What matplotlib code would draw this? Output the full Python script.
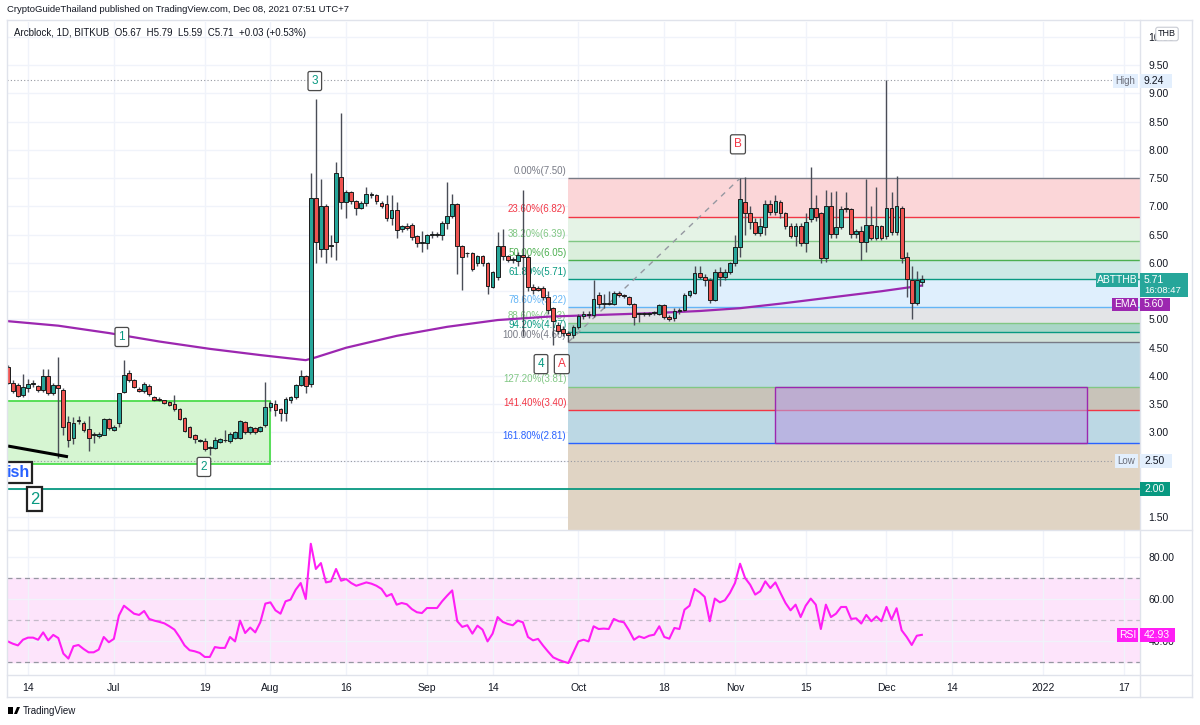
import numpy as np
import pandas as pd
import matplotlib
matplotlib.use('Agg')
import matplotlib.pyplot as plt
import matplotlib.dates as mdates
from matplotlib.patches import Rectangle, Polygon
from matplotlib.lines import Line2D
from matplotlib.ticker import FixedFormatter

plt.rcParams['font.family'] = ['Liberation Sans', 'DejaVu Sans']

# ---- data (ABT/THB daily, 2021-06-10 .. 2021-12-08) ----
START = '2021-06-10'
OPEN = [4.16, 3.88, 3.84, 3.66, 3.78, 3.86, 3.82, 3.76, 4.00, 3.70,
        3.84, 3.75, 3.18, 2.90, 3.20, 3.17, 3.06, 2.95, 2.93, 2.96,
        3.24, 3.05, 3.17, 3.72, 4.05, 3.92, 3.77, 3.74, 3.83, 3.62,
        3.60, 3.57, 3.54, 3.50, 3.42, 3.26, 3.10, 2.95, 2.85, 2.85,
        2.73, 2.73, 2.84, 2.86, 2.85, 2.90, 2.90, 3.18, 3.00, 3.08,
        3.02, 3.13, 3.45, 3.50, 3.42, 3.35, 3.58, 3.62, 3.84, 4.00,
        3.85, 7.15, 6.25, 7.00, 6.30, 6.37, 7.53, 7.08, 7.26, 7.10,
        6.98, 7.07, 7.20, 7.20, 7.07, 7.04, 6.80, 6.93, 6.60, 6.66,
        6.68, 6.48, 6.35, 6.35, 6.50, 6.50, 6.50, 6.70, 6.84, 7.04,
        6.30, 6.17, 6.17, 6.00, 6.12, 6.00, 5.58, 5.75, 6.30, 6.12,
        6.06, 6.03, 6.15, 6.10, 5.58, 5.55, 5.55, 5.40, 5.20, 4.90,
        4.83, 4.76, 4.73, 4.86, 5.07, 5.08, 5.08, 5.43, 5.28, 5.28,
        5.28, 5.47, 5.43, 5.40, 5.28, 5.10, 5.10, 5.10, 5.12, 5.10,
        5.25, 5.05, 5.03, 5.15, 5.17, 5.44, 5.47, 5.82, 5.76, 5.70,
        5.34, 5.84, 5.76, 5.84, 6.00, 6.28, 7.08, 6.88, 6.73, 6.53,
        6.63, 7.04, 6.90, 7.08, 6.88, 6.65, 6.48, 6.66, 6.35, 6.78,
        6.97, 6.88, 6.08, 7.00, 6.52, 6.64, 6.97, 6.95, 6.52, 6.57,
        6.37, 6.67, 6.44, 6.65, 6.47, 6.97, 6.55, 6.97, 6.10, 5.70,
        5.30, 5.67]
HIGH = [4.20, 3.93, 3.88, 4.04, 3.95, 3.92, 3.84, 4.12, 4.12, 3.88,
        4.34, 3.78, 3.30, 3.27, 3.30, 3.20, 3.30, 3.00, 3.00, 3.26,
        3.26, 3.13, 3.30, 4.28, 4.10, 3.95, 3.80, 3.90, 3.86, 3.65,
        3.62, 3.58, 3.56, 3.66, 3.44, 3.28, 3.12, 2.97, 2.88, 2.90,
        2.76, 2.92, 2.90, 3.05, 3.00, 3.02, 3.22, 3.20, 3.12, 3.10,
        3.12, 3.90, 3.55, 3.58, 3.44, 3.62, 3.64, 3.86, 4.10, 4.02,
        7.60, 8.90, 7.49, 7.05, 6.50, 7.79, 8.65, 7.30, 7.28, 7.12,
        7.10, 7.35, 7.25, 7.22, 7.10, 7.20, 7.20, 7.08, 6.68, 6.70,
        6.70, 6.50, 6.56, 6.52, 6.56, 6.54, 6.75, 7.43, 7.22, 7.06,
        6.32, 6.20, 6.20, 6.15, 6.15, 6.02, 5.85, 6.55, 6.60, 6.14,
        6.10, 6.20, 7.30, 6.15, 5.62, 5.60, 5.60, 5.50, 5.22, 4.95,
        4.88, 4.80, 4.90, 5.10, 5.15, 5.15, 5.70, 5.48, 5.45, 5.50,
        5.50, 5.50, 5.45, 5.42, 5.30, 5.12, 5.14, 5.14, 5.15, 5.28,
        5.27, 5.08, 5.20, 5.20, 5.46, 5.52, 5.94, 5.95, 5.80, 5.74,
        5.90, 5.92, 5.90, 6.02, 6.50, 7.50, 7.52, 7.00, 6.80, 6.80,
        7.12, 7.12, 7.20, 7.12, 6.90, 6.70, 6.70, 6.70, 6.88, 7.70,
        7.20, 6.90, 7.30, 7.25, 7.27, 7.00, 7.25, 6.98, 6.60, 6.65,
        7.49, 7.00, 7.35, 6.68, 9.24, 7.25, 7.54, 7.00, 6.20, 5.95,
        5.85, 5.79]
LOW = [3.85, 3.70, 3.62, 3.62, 3.72, 3.80, 3.72, 3.72, 3.66, 3.66,
       2.55, 2.95, 2.75, 2.80, 3.15, 3.00, 2.68, 2.82, 2.90, 2.95,
       3.05, 3.03, 3.10, 3.70, 3.90, 3.78, 3.72, 3.70, 3.65, 3.56,
       3.56, 3.50, 3.46, 3.38, 3.22, 3.00, 2.90, 2.82, 2.83, 2.68,
       2.60, 2.70, 2.82, 2.84, 2.82, 2.88, 2.88, 2.98, 2.98, 2.98,
       3.00, 3.10, 3.38, 3.30, 3.20, 3.20, 3.52, 3.60, 3.82, 3.70,
       3.80, 6.00, 6.10, 6.00, 6.10, 6.05, 6.95, 6.80, 7.05, 6.85,
       6.95, 7.00, 7.15, 7.05, 6.98, 6.75, 6.68, 6.45, 6.55, 6.58,
       6.40, 6.28, 6.20, 6.25, 6.45, 6.46, 6.40, 6.60, 6.80, 5.80,
       5.52, 6.10, 5.85, 5.95, 5.95, 5.45, 5.55, 5.70, 6.05, 6.02,
       6.00, 5.95, 4.70, 5.50, 5.45, 5.50, 5.35, 5.10, 4.55, 4.75,
       4.70, 4.60, 4.68, 4.84, 5.00, 5.03, 5.05, 5.20, 5.20, 5.25,
       5.25, 5.40, 5.38, 5.25, 4.90, 4.95, 5.06, 5.06, 5.08, 5.08,
       5.00, 4.98, 4.98, 5.10, 5.15, 5.40, 5.45, 5.72, 5.60, 5.30,
       5.32, 5.60, 5.70, 5.80, 5.95, 6.10, 6.50, 6.60, 6.50, 6.48,
       6.50, 6.85, 6.85, 6.80, 6.60, 6.45, 6.30, 6.30, 6.20, 6.72,
       6.75, 6.00, 6.02, 6.45, 6.45, 6.60, 6.90, 6.45, 6.45, 6.05,
       6.20, 6.40, 6.40, 6.40, 6.42, 6.50, 6.50, 6.00, 5.40, 5.00,
       5.25, 5.59]
CLOSE = [3.88, 3.73, 3.65, 3.81, 3.86, 3.86, 3.75, 4.00, 3.70, 3.84,
         3.78, 3.10, 2.87, 3.17, 3.22, 3.05, 2.90, 2.95, 2.98, 3.24,
         3.08, 3.10, 3.70, 4.02, 3.93, 3.80, 3.74, 3.85, 3.68, 3.58,
         3.58, 3.52, 3.48, 3.42, 3.24, 3.03, 2.92, 2.89, 2.86, 2.70,
         2.73, 2.87, 2.88, 2.86, 2.98, 3.00, 3.20, 3.00, 3.10, 3.00,
         3.10, 3.45, 3.52, 3.40, 3.35, 3.60, 3.62, 3.84, 4.00, 3.83,
         7.15, 6.37, 7.00, 6.25, 6.30, 7.60, 7.08, 7.26, 7.10, 6.97,
         7.07, 7.22, 7.20, 7.10, 7.00, 6.80, 6.93, 6.58, 6.65, 6.62,
         6.46, 6.35, 6.35, 6.50, 6.52, 6.50, 6.70, 6.84, 7.04, 6.30,
         6.10, 6.17, 5.90, 6.12, 6.00, 5.60, 5.84, 6.30, 6.12, 6.06,
         6.06, 6.15, 6.10, 5.58, 5.52, 5.53, 5.40, 5.17, 4.98, 4.80,
         4.76, 4.72, 4.86, 5.07, 5.10, 5.08, 5.36, 5.28, 5.28, 5.29,
         5.47, 5.43, 5.41, 5.28, 5.05, 5.10, 5.10, 5.10, 5.12, 5.25,
         5.05, 5.00, 5.15, 5.17, 5.44, 5.50, 5.82, 5.76, 5.70, 5.34,
         5.84, 5.76, 5.84, 6.00, 6.28, 7.13, 6.88, 6.73, 6.53, 6.66,
         7.04, 6.90, 7.10, 6.88, 6.65, 6.48, 6.66, 6.35, 6.73, 6.97,
         6.82, 6.08, 7.00, 6.52, 6.64, 6.95, 6.96, 6.52, 6.57, 6.37,
         6.67, 6.44, 6.65, 6.44, 6.98, 6.55, 7.00, 6.08, 5.72, 5.30,
         5.70, 5.71]
RSI = [39.8, 38.7, 37.9, 40.6, 41.6, 41.6, 40.6, 44.1, 40.3, 42.9,
       41.4, 34.0, 31.6, 37.5, 38.1, 36.2, 34.6, 34.6, 35.9, 41.9,
       39.4, 41.0, 52.1, 56.8, 54.9, 53.0, 52.4, 54.3, 50.5, 49.7,
       49.1, 48.4, 47.0, 45.4, 41.9, 37.9, 35.6, 35.1, 34.3, 32.4,
       32.4, 37.1, 36.7, 36.7, 41.9, 39.8, 49.7, 43.8, 46.4, 44.1,
       48.9, 57.8, 58.4, 54.6, 53.0, 58.9, 59.7, 64.4, 67.6, 60.0,
       86.3, 74.3, 77.1, 67.9, 68.4, 74.3, 68.7, 69.5, 67.6, 66.3,
       67.1, 67.9, 67.3, 66.3, 64.8, 61.3, 62.4, 57.3, 58.1, 57.5,
       55.2, 53.7, 53.3, 55.7, 55.7, 55.7, 58.9, 61.6, 64.1, 49.4,
       46.7, 47.5, 43.5, 47.3, 45.4, 39.8, 43.5, 51.4, 49.1, 48.1,
       47.5, 49.7, 48.9, 41.9, 40.3, 41.0, 37.8, 34.9, 32.2, 31.1,
       30.2, 29.5, 34.6, 39.8, 40.6, 39.8, 47.0, 45.7, 45.9, 45.7,
       50.5, 49.4, 48.9, 45.1, 40.6, 42.2, 41.4, 42.5, 43.0, 47.0,
       41.9, 41.1, 46.2, 45.7, 54.9, 56.8, 64.8, 63.2, 61.0, 49.4,
       60.2, 58.4, 59.4, 62.9, 67.6, 76.8, 70.0, 66.8, 62.1, 63.7,
       68.4, 65.2, 67.9, 62.9, 58.1, 54.6, 57.3, 51.4, 56.8, 60.2,
       57.3, 45.7, 57.3, 51.4, 53.0, 56.2, 56.2, 50.5, 50.8, 48.3,
       52.4, 49.4, 51.7, 49.4, 56.2, 50.2, 55.6, 45.1, 41.9, 38.1,
       42.5, 42.93]

# 200 EMA, read at a few dates
EMA_DATES = ['2021-06-10', '2021-06-20', '2021-06-30', '2021-07-10', '2021-07-20',
             '2021-07-30', '2021-08-08', '2021-08-10', '2021-08-16', '2021-08-26',
             '2021-09-05', '2021-09-15', '2021-09-25', '2021-10-05', '2021-10-15',
             '2021-10-25', '2021-11-02', '2021-11-10', '2021-11-20', '2021-11-30',
             '2021-12-08']
EMA_VALUES = [4.97, 4.89, 4.76, 4.61, 4.48, 4.37, 4.28, 4.33, 4.50, 4.71,
              4.87, 4.99, 5.05, 5.08, 5.11, 5.15, 5.20, 5.28, 5.39, 5.50, 5.60]

# fibonacci retracement drawn from the Sep 29 low to the Nov 2 high
FIB_START = '2021-09-29'
FIB_PCT = ['0.00%', '23.60%', '38.20%', '50.00%', '61.80%', '78.60%', '88.60%',
           '94.20%', '100.00%', '127.20%', '141.40%', '161.80%']
FIB_PRICES = [7.50, 6.82, 6.39, 6.05, 5.71, 5.22, 4.93, 4.77, 4.60, 3.81, 3.40, 2.81]
FIB_LINE_COLORS = ['#787b86', '#f23645', '#81c784', '#4caf50', '#089981', '#64b5f6',
                   '#81c784', '#089981', '#787b86', '#81c784', '#f23645', '#2962ff']
FIB_FILLS = ['#fbd6d8', '#e5f3e6', '#dbefdc', '#cde9e5', '#dfeffd', '#e3e4e7',
             '#a9d6c7', '#d2e1d9', '#bcd8e4', '#c8c3b9', '#bcd8e4', '#e0d4c4']

# wave count labels: (text, date, price, colour)
WAVES = [('1', '2021-07-02 14:00', 4.69, '#089981'),
         ('2', '2021-07-18 20:00', 2.39, '#089981'),
         ('3', '2021-08-09 19:00', 9.22, '#089981'),
         ('4', '2021-09-23 14:00', 4.21, '#089981'),
         ('A', '2021-09-27 17:00', 4.21, '#f23645'),
         ('B', '2021-11-01 14:00', 8.10, '#f23645')]

PRICE_TICKS = [1.5, 2.0, 2.5, 3.0, 3.5, 4.0, 4.5, 5.0, 5.5, 6.0, 6.5, 7.0, 7.5,
               8.0, 8.5, 9.0, 9.5, 10.0]
RSI_TICKS = [40, 60, 80]
TICK_DATES = ['2021-06-14', '2021-07-01', '2021-07-19', '2021-08-01', '2021-08-16',
              '2021-09-01', '2021-09-14', '2021-10-01', '2021-10-18', '2021-11-01',
              '2021-11-15', '2021-12-01', '2021-12-14', '2022-01-01', '2022-01-17']
TICK_LABELS = ['14', 'Jul', '19', 'Aug', '16', 'Sep', '14', 'Oct', '18', 'Nov',
               '15', 'Dec', '14', '2022', '17']

W, H = 1200, 725
UP, DOWN = '#26a69a', '#ef5350'
GRID = '#f0f3fa'
FRAME = '#e0e3eb'
TXT = '#131722'


def fx(px):
    return px / W


def fy(py):
    return 1 - py / H


def dnum(s):
    return mdates.date2num(pd.Timestamp(s))


fig = plt.figure(figsize=(12, 7.25), dpi=100)
fig.patch.set_facecolor('white')

ax = fig.add_axes([fx(7), fy(530), fx(1140) - fx(7), fy(22) - fy(530)])
rax = fig.add_axes([fx(7), fy(675), fx(1140) - fx(7), fy(530) - fy(675)], sharex=ax)

x = mdates.date2num(pd.date_range(START, periods=len(CLOSE), freq='D'))
o, h, l, c = map(np.array, (OPEN, HIGH, LOW, CLOSE))

base = dnum('2021-06-14')
XMIN, XMAX = base - 4.16, base + 220.2
ax.set_xlim(XMIN, XMAX)
ax.set_ylim(1.274, 10.265)
rax.set_ylim(23.8, 92.86)

# ---- fibonacci zones ----
fx0 = dnum(FIB_START)
bounds = FIB_PRICES + [0.0]
for i in range(len(FIB_PRICES)):
    ax.add_patch(Rectangle((fx0, bounds[i + 1]), XMAX - fx0, bounds[i] - bounds[i + 1],
                           fc=FIB_FILLS[i], ec='none', zorder=1))
for pct, p, col in zip(FIB_PCT, FIB_PRICES, FIB_LINE_COLORS):
    ax.hlines(p, fx0, XMAX, color=col, lw=1, zorder=1.5)
    ax.text(fx0 - 0.4, p + 0.04, f'{pct}({p:.2f})', ha='right', va='bottom',
            fontsize=7, color=col, zorder=2)

# green zone on the left and purple target box
ax.add_patch(Rectangle((XMIN - 5, 2.44), dnum('2021-07-31 22:00') - XMIN + 5, 3.557 - 2.44,
                       fc='#d6f5d2', ec='#4cdc4c', lw=1.3, zorder=1.2))
box_x0, box_x1 = dnum('2021-11-08 22:00'), dnum('2022-01-09 16:00')
ax.add_patch(Rectangle((box_x0, 2.81), box_x1 - box_x0, 3.81 - 2.81,
                       fc='#b79fe0', alpha=0.6, ec='none', zorder=1.6))
ax.add_patch(Rectangle((box_x0, 2.81), box_x1 - box_x0, 3.81 - 2.81,
                       fc='none', ec='#9c27b0', lw=1, zorder=1.7))

# high / low markers and the 2.00 line
hl_end = base + 214.6
ax.hlines([9.24, 2.50], XMIN, hl_end, color='#9598a1', lw=0.8, linestyles=(0, (1, 2)), zorder=2)
ax.axhline(2.00, color='#089981', lw=1.3, zorder=2)

# diagonal of the fib tool
ax.plot([fx0, dnum('2021-11-02')], [4.60, 7.50], color='#9598a1', lw=1,
        ls=(0, (4, 4)), zorder=2)

# black trend line
ax.plot([XMIN + 0.2, dnum('2021-06-21 22:00')], [2.76, 2.57], color='black', lw=2.2,
        zorder=5, solid_capstyle='butt')

# EMA
ax.plot(mdates.date2num(pd.to_datetime(EMA_DATES)), EMA_VALUES, color='#9c27b0',
        lw=1.6, zorder=3)

# candles
up = c >= o
body = np.maximum(np.abs(c - o), 0.015)
ax.vlines(x, l, h, color='#4a4d57', lw=1, zorder=4)
ax.bar(x, body, bottom=np.minimum(o, c), width=0.75,
       color=np.where(up, UP, DOWN), edgecolor='#1c1c1c', linewidth=0.7, zorder=5)

# wave labels
for s, d, p, col in WAVES:
    ax.text(dnum(d), p, s, ha='center', va='center', fontsize=8.5, color=col, zorder=7,
            bbox=dict(boxstyle='round,pad=0.3,rounding_size=0.15', fc='white',
                      ec='#4a4a4a', lw=0.9))

# clipped "ish" label and "2" box on the left
ax.add_patch(Rectangle((XMIN - 3, 2.11), base + 0.8 - XMIN + 3, 2.48 - 2.11,
                       fc='white', ec='#222222', lw=1.6, zorder=6))
ax.text(base - 1.8, 2.29, 'ish', ha='center', va='center', fontsize=11.5,
        fontweight='bold', color='#2962ff', zorder=7)
ax.add_patch(Rectangle((base - 0.26, 1.61), 3.1, 2.04 - 1.61,
                       fc='white', ec='#222222', lw=1.6, zorder=6))
ax.text(base + 1.29, 1.82, '2', ha='center', va='center', fontsize=12,
        color='#089981', zorder=7)

# ---- RSI pane ----
rax.axhspan(30, 70, color='#fde4fb', zorder=0)
for lv, a in ((70, 1), (50, 0.55), (30, 1)):
    rax.axhline(lv, color='#9598a1', lw=0.9, ls=(0, (4, 3)), alpha=a, zorder=1)
rax.plot(x, RSI, color='#ff1ef5', lw=1.5, zorder=3)

# ---- axes styling ----
for a in (ax, rax):
    a.set_axisbelow(True)
    a.grid(True, color=GRID, lw=1)
    for sp in a.spines.values():
        sp.set_visible(False)
    a.yaxis.tick_right()
    a.tick_params(axis='y', length=0, pad=6, labelsize=7.5, labelcolor=TXT)
    a.set_facecolor('white')

# price ticks that sit under a tag are left blank, as on the chart
hidden = {2.0, 2.5, 5.5}
ax.set_yticks(PRICE_TICKS)
ax.yaxis.set_major_formatter(FixedFormatter(
    ['' if t in hidden else f'{t:.2f}' for t in PRICE_TICKS]))
rax.set_yticks(RSI_TICKS)
rax.yaxis.set_major_formatter(FixedFormatter([f'{t:.2f}' for t in RSI_TICKS]))
rax.set_xticks(mdates.date2num(pd.to_datetime(TICK_DATES)))
rax.set_xticklabels(TICK_LABELS)
rax.tick_params(axis='x', length=0, pad=6, labelsize=7.5, labelcolor=TXT)
ax.tick_params(axis='x', labelbottom=False, length=0)
ax.set_xlim(XMIN, XMAX)


def tag(x0, x1, y0, y1, fc, text, tc='white', fs=7.5, center=False):
    # coloured label box given in pixel coordinates of the figure
    fig.add_artist(Rectangle((fx(x0), fy(y1)), (x1 - x0) / W, (y1 - y0) / H,
                             transform=fig.transFigure, fc=fc, ec='none', zorder=20))
    if center:
        fig.text(fx((x0 + x1) / 2), fy((y0 + y1) / 2), text, ha='center', va='center',
                 fontsize=fs, color=tc, zorder=21)
    else:
        fig.text(fx(x0 + 4), fy((y0 + y1) / 2), text, ha='left', va='center',
                 fontsize=fs, color=tc, zorder=21)


tag(1140, 1172, 74, 88, '#e3effd', '9.24', TXT)
tag(1113, 1138, 74, 88, '#e3effd', 'High', '#6a6d78', 7, center=True)
tag(1140, 1172, 454, 468, '#e3effd', '2.50', TXT)
tag(1115, 1138, 454, 468, '#e3effd', 'Low', '#6a6d78', 7, center=True)
tag(1140, 1170, 482, 496, '#089981', '2.00')
tag(1140, 1188, 273, 286, '#26a69a', '5.71')
tag(1140, 1188, 285, 297, '#26a69a', '16:08:47', fs=6.8)
tag(1096, 1138, 273, 287, '#26a69a', 'ABTTHB', fs=7.5, center=True)
tag(1140, 1170, 298, 311, '#9c27b0', '5.60')
tag(1112, 1138, 298, 311, '#9c27b0', 'EMA', fs=7.5, center=True)
tag(1140, 1175, 628, 642, '#ff1ef5', '42.93')
tag(1117, 1138, 628, 642, '#ff1ef5', 'RSI', fs=7.5, center=True)

# ---- frame, separators and texts ----
for (x0, y0, x1, y1) in [(7, 20, 1192, 20), (7, 530, 1192, 530), (7, 675, 1192, 675),
                         (7, 697, 1192, 697), (7, 20, 7, 697), (1140, 20, 1140, 697),
                         (1192, 20, 1192, 697)]:
    fig.add_artist(Line2D([fx(x0), fx(x1)], [fy(y0), fy(y1)], color=FRAME, lw=1))

fig.text(fx(1167), fy(34), 'THB', ha='center', va='center', fontsize=6.5, color=TXT,
         zorder=22, bbox=dict(boxstyle='round,pad=0.25', fc='white', ec='#c8cbd3', lw=0.8))
fig.text(fx(7), fy(10), 'CryptoGuideThailand published on TradingView.com, Dec 08, 2021 07:51 UTC+7',
         fontsize=6.8, color=TXT, va='center')
fig.text(fx(14), fy(33), 'Arcblock, 1D, BITKUB  O5.67  H5.79  L5.59  C5.71  +0.03 (+0.53%)',
         fontsize=7, color=TXT, va='center')

# small TradingView logo mark
fig.add_artist(Rectangle((fx(8), fy(714)), 5 / W, 7 / H, transform=fig.transFigure,
                         fc='black', ec='none'))
fig.add_artist(Polygon([[fx(14), fy(714)], [fx(17), fy(707)], [fx(20), fy(707)],
                        [fx(17), fy(714)]], closed=True, transform=fig.transFigure,
                       fc='black', ec='none'))
fig.text(fx(23), fy(711), 'TradingView', fontsize=7, color=TXT, va='center')

fig.savefig('out.png', dpi=100, facecolor='white')
